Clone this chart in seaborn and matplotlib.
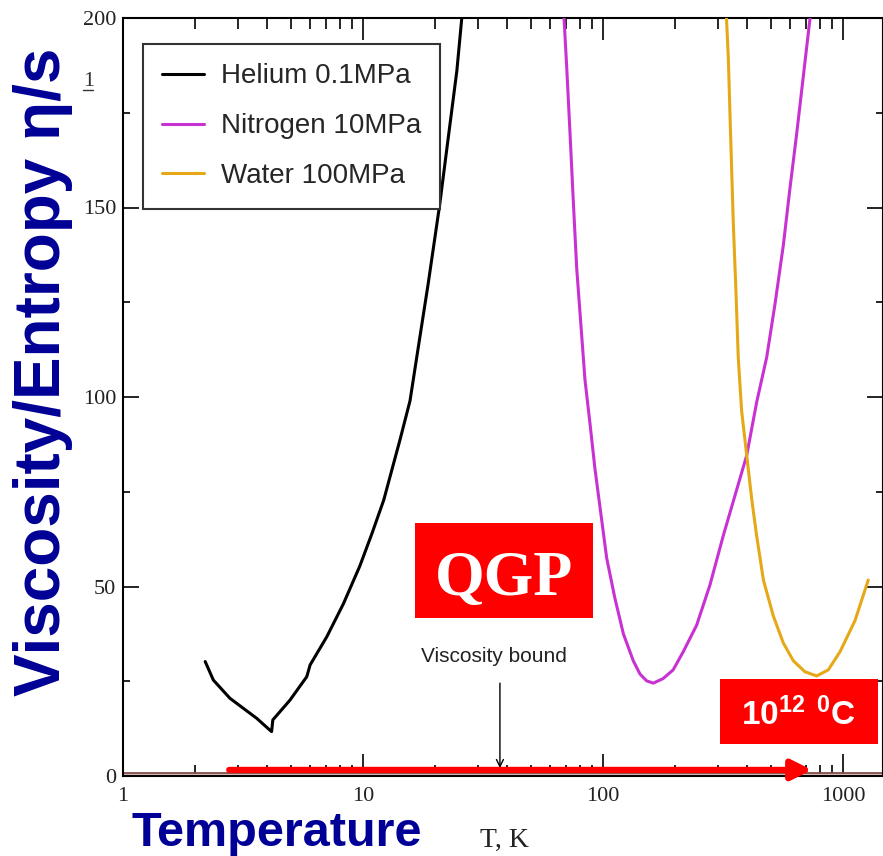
import matplotlib
matplotlib.use("Agg")
import pandas as pd
import matplotlib.pyplot as plt
import seaborn as sns
from matplotlib.patches import Rectangle
from matplotlib.lines import Line2D
from matplotlib.ticker import FixedLocator, LogLocator, NullFormatter

# Valores (T em K, razao eta/s)
helium_T = [2.20, 2.38, 2.79, 3.61, 4.16, 4.21, 4.96, 5.83, 6.02, 7.06, 8.28, 9.7, 10.9,
            12.2, 14.3, 15.7, 16.7, 18.7, 20.9, 22.3, 24.6, 25.8]
helium_ratio = [30.2, 25.3, 20.5, 15.2, 11.7, 14.8, 20.0, 26.2, 29.3, 36.7, 45.4, 55.4, 64.0,
                72.8, 89.0, 99.0, 110.0, 130.0, 151.0, 165.0, 186.0, 200.0]

nitrogen_T = [68.8, 70.6, 72.9, 75.2, 77.7, 84.1, 88.3, 92.6, 103.6, 112.0, 121.6, 133.7, 142.6,
              152.0, 162.0, 178.0, 196.0, 216.0, 245.6, 279.0, 317.0, 397.0, 437.0, 481.0,
              521.0, 564.0, 601.0, 641.0, 729.0]
nitrogen_ratio = [200.0, 187.0, 169.4, 151.7, 134.0, 104.6, 92.9, 81.0, 57.5, 47.0, 37.5, 30.4, 26.9,
                  25.1, 24.5, 25.7, 28.0, 32.8, 39.8, 50.4, 63.4, 84.6, 98.7, 110.5,
                  124.6, 140.0, 155.0, 169.4, 200.0]

water_T = [327.0, 333.0, 338.0, 349.0, 358.0, 366.0, 378.0, 397.0, 417.0, 436.6, 466.0, 512.6,
           564.0, 621.0, 694.0, 777.0, 868.0, 972.0, 1122.0, 1274.0]
water_ratio = [200.0, 189.0, 175.0, 146.0, 128.0, 110.5, 96.4, 84.6, 72.8, 63.4, 51.7, 42.2,
               35.1, 30.4, 27.5, 26.4, 28.0, 32.8, 41.0, 51.7]

fluids = ["Helium 0.1MPa", "Nitrogen 10MPa", "Water 100MPa"]
colors = ["black", "#C832D2", "#E6A817"]

x_ticks = [1, 10, 100, 1000]
x_tick_labels = ["1", "10", "100", "1000"]
y_ticks = [0, 50, 100, 150, 200]
y_minor = [25, 75, 125, 175]

bound_level = 0.8
bound_arrow_T = 37.2
qgp_arrow = ([2.77, 742.0], 1.6)

df = pd.concat([
    pd.DataFrame({"T": helium_T, "ratio": helium_ratio, "fluid": fluids[0]}),
    pd.DataFrame({"T": nitrogen_T, "ratio": nitrogen_ratio, "fluid": fluids[1]}),
    pd.DataFrame({"T": water_T, "ratio": water_ratio, "fluid": fluids[2]}),
])

sns.set_style("ticks")
plt.rcParams["font.family"] = ["Liberation Sans", "DejaVu Sans"]
plt.rcParams["mathtext.fontset"] = "custom"
plt.rcParams["mathtext.rm"] = "Liberation Sans"
plt.rcParams["mathtext.bf"] = "Liberation Sans:bold"

W, H = 883, 856
fig = plt.figure(figsize=(W / 100, H / 100), dpi=100)
ax = fig.add_axes([123 / W, 80 / H, 1 - 123 / W, 758 / H])

# Faixa do limite de viscosidade
ax.axhspan(0, bound_level, color="#e2bcbc", zorder=1)
ax.axhline(bound_level, color="#7a4545", lw=1.2, zorder=2)

sns.lineplot(data=df, x="T", y="ratio", hue="fluid", palette=dict(zip(fluids, colors)),
             estimator=None, sort=False, lw=2.2, ax=ax, zorder=3)

ax.set_xscale("log")
ax.set_xlim(1, 10 ** (760 / 240))
ax.set_ylim(0, 200)
ax.set_xlabel("")
ax.set_ylabel("")

ax.set_xticks(x_ticks)
ax.set_xticklabels(x_tick_labels)
ax.xaxis.set_minor_locator(LogLocator(base=10, subs=range(2, 10)))
ax.xaxis.set_minor_formatter(NullFormatter())
ax.set_yticks(y_ticks)
ax.set_yticklabels([str(v) for v in y_ticks])
ax.yaxis.set_minor_locator(FixedLocator(y_minor))

ax.tick_params(which="both", direction="in", top=True, right=True, width=1.2, color="black")
ax.tick_params(axis="x", which="major", length=16, pad=8, labelsize=16)
ax.tick_params(axis="x", which="minor", length=8)
ax.tick_params(axis="y", which="major", length=11.5, pad=5, labelsize=16)
ax.tick_params(axis="y", which="minor", length=5)
for lab in ax.get_xticklabels() + ax.get_yticklabels():
    lab.set_fontfamily("Liberation Serif")
    lab.set_color("#222222")

for sp in ax.spines.values():
    sp.set_linewidth(1.5)
    sp.set_color("black")

# Legenda
handles, labels = ax.get_legend_handles_labels()
leg = ax.legend(handles, labels, loc="upper left", bbox_to_anchor=(143 / W, 1 - 44 / H),
                bbox_transform=fig.transFigure, fontsize=20, frameon=True, fancybox=False,
                edgecolor="#333333", framealpha=1, borderpad=0.7, labelspacing=0.86,
                handlelength=1.5, handletextpad=0.6, borderaxespad=0)
leg.get_frame().set_linewidth(1.5)

# Seta vermelha (QGP)
ax.annotate("", xy=(qgp_arrow[0][1], qgp_arrow[1]), xytext=(qgp_arrow[0][0], qgp_arrow[1]),
            arrowprops=dict(arrowstyle="-|>,head_length=0.6,head_width=0.3", color="red",
                            lw=4.5, shrinkA=0, shrinkB=0, mutation_scale=20), zorder=5)

# Viscosity bound
ax.annotate("", xy=(bound_arrow_T, 2.1), xytext=(bound_arrow_T, 24.5),
            arrowprops=dict(arrowstyle="->,head_length=0.5,head_width=0.25", color="black",
                            lw=1, shrinkA=0, shrinkB=0, mutation_scale=10))
ax.text(35.1, 31.4, "Viscosity bound", ha="center", va="center", fontsize=15, color="#222222")


def fx(px):
    return px / W


def fy(py):
    return 1 - py / H


# Caixas vermelhas
fig.add_artist(Rectangle((fx(415), fy(618)), 178 / W, 95 / H, transform=fig.transFigure,
                         facecolor="red", edgecolor="none", zorder=6))
fig.text(fx(504), fy(595), "QGP", ha="center", va="baseline", fontsize=46, fontweight="bold",
         family="Liberation Serif", color="white", zorder=7)

fig.add_artist(Rectangle((fx(720), fy(744)), 158 / W, 65 / H, transform=fig.transFigure,
                         facecolor="red", edgecolor="none", zorder=6))
fig.text(fx(741), fy(725), r"$\mathbf{10^{12}\ {}^{0}C}$", ha="left", va="baseline",
         fontsize=24, color="white", zorder=7)

# Titulos dos eixos
fig.text(fx(43), fy(372), "Viscosity/Entropy η/s", rotation=90, ha="center", va="center",
         fontsize=46, fontweight="bold", color="#000096")
fig.text(fx(131), fy(846), "Temperature", ha="left", va="baseline", fontsize=35,
         fontweight="bold", color="#000096")
fig.text(fx(480), fy(847), "T, K", ha="left", va="baseline", fontsize=20,
         family="Liberation Serif", color="#222222")

# pequeno "1" sublinhado no canto
fig.text(fx(83), fy(86), "1", ha="left", va="baseline", fontsize=16,
         family="Liberation Serif", color="#333333")
fig.add_artist(Line2D([fx(83), fx(93)], [fy(90), fy(90)], transform=fig.transFigure,
                      color="#333333", lw=1))

fig.savefig("out.png", dpi=100)
